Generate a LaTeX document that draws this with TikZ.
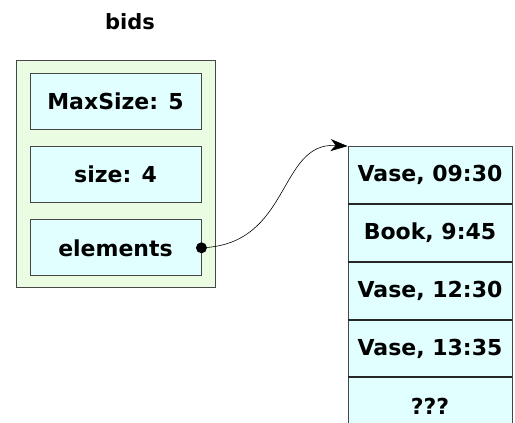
\documentclass[tikz,border=0pt]{standalone}
\usepackage{fontspec}
\setmainfont{DejaVu Sans}
\usepackage{xcolor}
\usetikzlibrary{positioning,arrows.meta}

\definecolor{objfill}{RGB}{234,252,226}
\definecolor{cellfill}{RGB}{226,255,255}
\definecolor{edge}{RGB}{70,70,70}

\tikzset{
  lbl/.style={font=\bfseries\fontsize{22}{26}\selectfont},
  field/.style={lbl, draw=edge, line width=0.9pt, fill=cellfill,
    minimum width=171pt, minimum height=56pt, inner sep=0pt},
  slot/.style={lbl, draw=edge, line width=0.8pt, fill=cellfill,
    minimum width=164pt, minimum height=57pt, inner sep=0pt},
  divider/.style={line width=2pt, black!85},
  link/.style={line width=0.6pt, -{Stealth[length=17pt,width=12pt,inset=5pt]}}
}

\begin{document}
\begin{tikzpicture}[x=1pt,y=-1pt]
    \clip (0,0) rectangle (515,423);
    \fill[white] (0,0) rectangle (515,423);

    % the object and its fields
    \node[lbl, font=\bfseries\fontsize{21}{24}\selectfont] (title) at (130,22) {bids};
    \node[draw=edge, line width=0.9pt, fill=objfill,
          minimum width=199pt, minimum height=227pt] (obj) at (115.5,173.5) {};
    \node[field] (maxsize) at (115.5,101) {MaxSize: 5};
    \node[field, below=16.5pt of maxsize] (size) {size: 4};
    \node[field, below=16.5pt of size] (elems) {elements};
    \node[circle, fill=black, inner sep=0pt, minimum size=11pt] (dot) at (elems.east) {};

    % the array
    \node[slot] (c1) at (430,175) {Vase, 09:30};
    \node[slot, below=0pt of c1] (c2) {Book, 9:45};
    \node[slot, below=0pt of c2] (c3) {Vase, 12:30};
    \node[slot, below=0pt of c3] (c4) {Vase, 13:35};
    \node[slot, below=0pt of c4] (c5) {???};
    \foreach \c in {c1,c2,c3,c4}
        \draw[divider] (\c.south west) -- (\c.south east);

    \draw[link] (dot.center) .. controls +(90,-3) and +(-70,-4) .. (c1.north west);
\end{tikzpicture}
\end{document}
